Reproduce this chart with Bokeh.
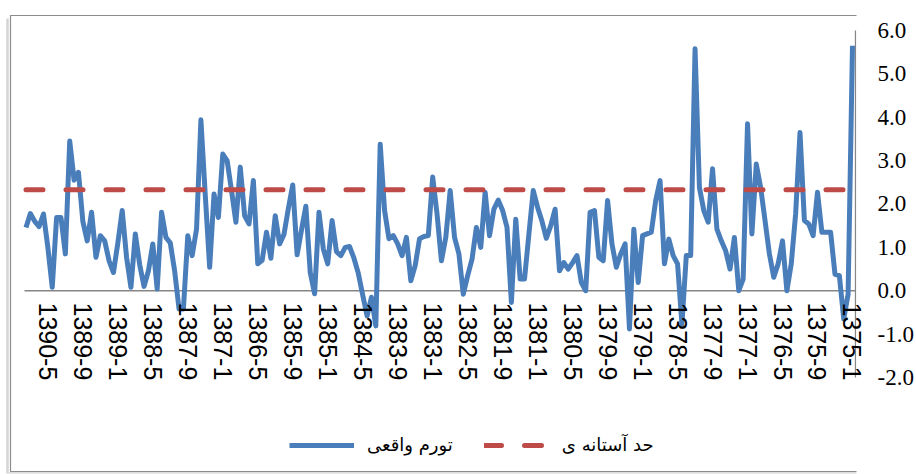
from bokeh.plotting import figure
from bokeh.models import (Range1d, FixedTicker, Legend, LegendItem,
                          NumeralTickFormatter)
from bokeh.embed import file_html
from bokeh.resources import INLINE

# Monthly categories, newest (left) to oldest (right) as displayed
months = []
for yr in range(1390, 1374, -1):
    first = 10 if yr == 1390 else 12
    for mo in range(first, 0, -1):
        months.append(f"{yr}-{mo}")

tick_labels = ["1390-5", "1389-9", "1389-1", "1388-5", "1387-9", "1387-1",
               "1386-5", "1385-9", "1385-1", "1384-5", "1383-9", "1383-1",
               "1382-5", "1381-9", "1381-1", "1380-5", "1379-9", "1379-1",
               "1378-5", "1377-9", "1377-1", "1376-5", "1375-9", "1375-1"]

# actual inflation (تورم واقعی), in display order: 1390-10 ... 1375-1
actual = [1.46, 1.78, 1.6, 1.48, 1.77, 1.0, 0.08, 1.69, 1.69, 0.85,
          3.45, 2.55, 2.73, 1.6, 1.15, 1.81, 0.77, 1.27, 1.15, 0.69,
          0.42, 1.1, 1.85, 0.77, 0.08, 1.31, 0.6, 0.1, 0.46, 1.08,
          0.04, 1.81, 1.23, 1.1, 0.45, -0.42, -0.42, 1.27, 0.81, 1.42,
          3.94, 2.2, 0.54, 2.23, 1.69, 3.15, 3.0, 2.31, 1.58, 2.85,
          1.73, 1.54, 2.54, 0.62, 0.7, 1.35, 0.75, 1.73, 1.08, 1.3,
          1.9, 2.44, 0.83, 1.4, 1.95, 0.42, -0.07, 1.81, 0.96, 0.62,
          1.62, 0.9, 0.81, 1.0, 1.02, 0.75, 0.4, -0.1, -0.58, -0.15,
          -0.81, 3.38, 1.85, 1.2, 1.27, 1.08, 0.81, 1.23, 0.23, 0.58,
          1.2, 1.25, 1.27, 2.62, 1.77, 0.69, 1.23, 2.31, 1.23, 0.85,
          -0.08, 0.35, 0.73, 1.46, 1.0, 2.27, 1.27, 1.88, 2.09, 1.85,
          1.46, -0.27, 1.65, 0.27, 0.27, 1.3, 2.31, 1.92, 1.6, 1.21,
          1.5, 1.88, 0.46, 0.65, 0.5, 0.65, 0.81, 0.19, 0.0, 1.81,
          1.85, 0.77, 0.69, 2.08, 1.08, 0.54, 0.85, 1.08, -0.88, 1.42,
          0.19, 1.27, 1.31, 1.35, 2.08, 2.54, 0.62, 1.19, 0.81, 0.62,
          -0.77, 0.81, 0.81, 5.58, 2.38, 1.85, 1.58, 2.81, 1.42, 1.15,
          0.92, 0.5, 1.23, 0.0, 0.27, 3.85, 1.31, 2.92, 2.38, 1.62,
          0.85, 0.31, 0.62, 1.15, 0.0, 0.62, 1.77, 3.65, 1.62, 1.54,
          1.27, 2.27, 1.35, 1.35, 1.35, 0.38, 0.35, -0.65, -0.08, 5.65]

threshold_value = 2.33  # حد آستانه ی
threshold = [threshold_value] * len(months)

y_ticks = [-2, -1, 0, 1, 2, 3, 4, 5, 6]
y_min, y_max = -2, 6

xs = list(range(len(months)))
tick_pos = [months.index(t) for t in tick_labels]

# layout: canvas pixels <-> data units
X0, Y0 = -5.83, -4.2133
X1, Y1 = 189.92, 6.6916
FRAME_W, FRAME_H = 856, 473


def px_x(px):
    return X0 + px * (X1 - X0) / FRAME_W


def px_y(py):
    return Y1 - py * (Y1 - Y0) / FRAME_H


# plot-area edges (in category units) for the axis chrome
area_left, area_right = xs[0] - 0.34, xs[-1] + 0.69

p = figure(width=916, height=474, output_backend="svg", toolbar_location=None,
           x_range=Range1d(X0, X1), y_range=Range1d(Y0, Y1),
           y_axis_location="right",
           min_border_left=0, min_border_right=60, min_border_top=0,
           min_border_bottom=1)
p.xgrid.visible = False
p.ygrid.visible = False
p.outline_line_color = None
p.background_fill_color = "white"
p.border_fill_color = "white"

# outer chart border (left, top, bottom edges)
bl, bt, bb, br = px_x(10), px_y(15), px_y(471), X1 + 5
p.line([br, bl, bl, br], [bt, bt, bb, bb], line_color="#8c8c8c",
       line_width=1.2)
# faint shadow of the chart border
p.line([px_x(7), px_x(7), br], [px_y(18), px_y(473), px_y(473)],
       line_color="#d4d4d4", line_width=2.5)

# horizontal (category) axis line at zero, vertical value axis on right
p.line([area_left, area_right], [0, 0], line_color="#868686", line_width=1.3)
p.line([area_right, area_right], [y_min, y_max], line_color="#868686",
       line_width=1.3)

r_act = p.line(xs, actual, line_color="#4a7ebb", line_width=5,
               line_join="round")
r_thr = p.line(xs, threshold, line_color="#be4b48", line_width=5,
               line_dash="17 23", line_cap="round")

# x axis
xa = p.xaxis[0]
xa.ticker = FixedTicker(ticks=tick_pos)
xa.major_label_overrides = {pos: lab for pos, lab in zip(tick_pos, tick_labels)}
xa.major_label_orientation = "vertical"
xa.axis_line_color = None
xa.major_tick_line_color = None
xa.minor_tick_line_color = None
xa.major_label_standoff = -177
xa.major_label_text_font = "Liberation Sans"
xa.major_label_text_font_size = "25px"
xa.major_label_text_color = "black"

# y axis (right)
ya = p.yaxis[0]
ya.ticker = FixedTicker(ticks=y_ticks)
ya.formatter = NumeralTickFormatter(format="0.0")
ya.axis_line_color = None
ya.major_tick_out = 0
ya.major_tick_in = 0
ya.minor_tick_line_color = None
ya.major_label_standoff = 21
ya.major_label_text_font = "Liberation Serif"
ya.major_label_text_font_size = "23px"
ya.major_label_text_color = "black"

legend = Legend(items=[LegendItem(label="تورم واقعی", renderers=[r_act]),
                       LegendItem(label="حد آستانه ی", renderers=[r_thr])],
                orientation="horizontal", location=(289, 18),
                glyph_width=65, glyph_height=20, label_standoff=13,
                spacing=31, padding=0, margin=0,
                border_line_color=None, background_fill_alpha=0,
                label_text_font="DejaVu Sans", label_text_font_size="18px",
                label_text_color="black")
p.add_layout(legend)

open("out.html", "w").write(file_html(p, INLINE))
